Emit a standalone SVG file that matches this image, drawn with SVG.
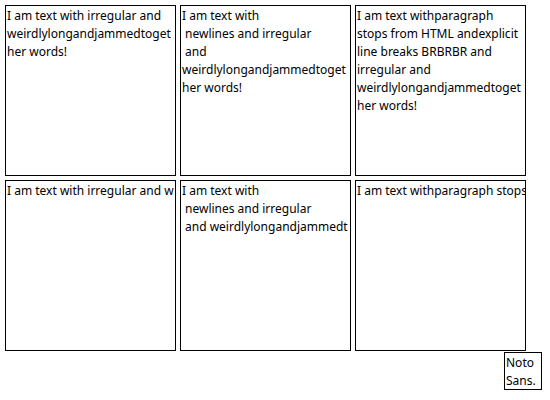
<svg xmlns="http://www.w3.org/2000/svg" width="550" height="400" viewBox="0 0 550 400">
<defs>
<style>
.box{fill:#fff;stroke:#000;stroke-width:1}
.t{font-family:"Noto Sans","DejaVu Sans",sans-serif;font-size:12px;fill:#000}
</style>
<clipPath id="c4"><rect x="6" y="181" width="169" height="169"/></clipPath>
<clipPath id="c5"><rect x="181" y="181" width="169" height="169"/></clipPath>
<clipPath id="c6"><rect x="356" y="181" width="169" height="169"/></clipPath>
</defs>
<rect width="550" height="400" fill="#fff"/>
<g id="node1">
<rect class="box" x="5.5" y="5.5" width="170" height="170"/>
<text class="t"><tspan x="7" y="19.7">I am text with irregular and</tspan><tspan x="7" y="37.7">weirdlylongandjammedtoget</tspan><tspan x="7" y="55.7">her words!</tspan></text>
</g>
<g id="node2">
<rect class="box" x="180.5" y="5.5" width="170" height="170"/>
<text class="t"><tspan x="182" y="19.7">I am text with</tspan><tspan x="185" y="37.7">newlines and irregular</tspan><tspan x="185" y="55.7">and</tspan><tspan x="182" y="73.7">weirdlylongandjammedtoget</tspan><tspan x="182" y="91.7">her words!</tspan></text>
</g>
<g id="node3">
<rect class="box" x="355.5" y="5.5" width="170" height="170"/>
<text class="t"><tspan x="357" y="19.7">I am text withparagraph</tspan><tspan x="357" y="37.7">stops from HTML andexplicit</tspan><tspan x="357" y="55.7">line breaks BRBRBR and</tspan><tspan x="357" y="73.7">irregular and</tspan><tspan x="357" y="91.7">weirdlylongandjammedtoget</tspan><tspan x="357" y="109.7">her words!</tspan></text>
</g>
<g id="node4">
<rect class="box" x="5.5" y="180.5" width="170" height="170"/>
<text class="t" clip-path="url(#c4)"><tspan x="7" y="194.7">I am text with irregular and w</tspan></text>
</g>
<g id="node5">
<rect class="box" x="180.5" y="180.5" width="170" height="170"/>
<text class="t" clip-path="url(#c5)"><tspan x="182" y="194.7">I am text with</tspan><tspan x="185" y="212.7">newlines and irregular</tspan><tspan x="185" y="230.7">and weirdlylongandjammedt</tspan></text>
</g>
<g id="node6">
<rect class="box" x="355.5" y="180.5" width="170" height="170"/>
<text class="t" clip-path="url(#c6)"><tspan x="357" y="194.7">I am text withparagraph stops</tspan></text>
</g>
<g id="node7">
<rect class="box" x="504.5" y="352.5" width="37" height="37"/>
<text class="t"><tspan x="506" y="366.5">Noto</tspan><tspan x="506" y="384.5">Sans.</tspan></text>
</g>
<g id="connectors"/>
</svg>
